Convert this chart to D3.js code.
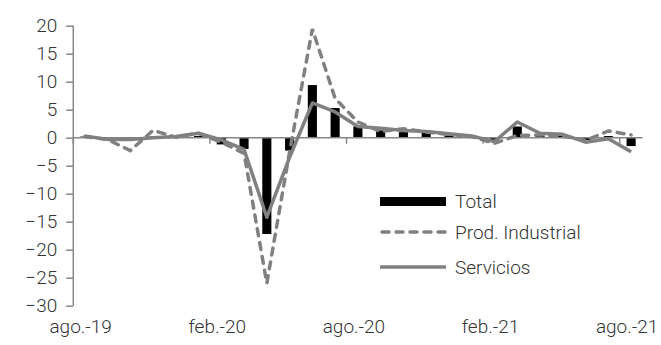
<!DOCTYPE html>
<html>
<head>
<meta charset="utf-8">
<script src="https://cdn.jsdelivr.net/npm/d3@7"></script>
<style>
  html, body { margin: 0; padding: 0; background: #fff; }
  svg text { font-family: Roboto, 'Liberation Sans', sans-serif; font-weight: 300; fill: #333; }
</style>
</head>
<body>
<svg id="chart" width="661" height="345"></svg>
<script>
// Monthly categories, ago-19 .. ago-21
const months = ["ago.-19","sep.-19","oct.-19","nov.-19","dic.-19","ene.-20","feb.-20","mar.-20","abr.-20","may.-20","jun.-20","jul.-20",
                "ago.-20","sep.-20","oct.-20","nov.-20","dic.-20","ene.-21","feb.-21","mar.-21","abr.-21","may.-21","jun.-21","jul.-21","ago.-21"];
const total      = [0.2,-0.2,-0.4,0.2,0.1,0.3,-1.2,-2.0,-17.2,-2.3,9.4,5.3,2.0,1.3,1.0,0.9,0.4,0.3,-0.5,2.0,0.4,0.4,-0.4,0.3,-1.5];
const prodInd    = [0.2,-0.3,-2.3,1.3,0.1,0.8,-0.8,-2.8,-26.0,-2.5,19.4,7.0,2.8,1.1,1.6,1.0,0.6,0.2,-1.0,0.4,0.5,0.3,-0.5,1.2,0.5];
const servicios  = [0.3,-0.3,-0.3,0.0,0.2,0.8,-0.4,-2.1,-14.2,-3.5,6.2,4.6,2.0,1.7,1.3,1.1,0.7,0.3,-0.7,2.8,0.8,0.6,-0.8,-0.2,-2.5];
const yTicks     = [20,15,10,5,0,-5,-10,-15,-20,-25,-30];
const xLabels    = ["ago.-19","feb.-20","ago.-20","feb.-21","ago.-21"];
const legendItems = ["Total","Prod. Industrial","Servicios"];

const svg = d3.select("#chart");
const plotLeft = 73.3, plotRight = 642.5, plotTop = 25.7, plotBottom = 305.7;
const axisColor = "#868686", lineColor = "#808080";
const fontSize = 19;

const x = d3.scaleBand().domain(months).range([plotLeft, plotRight]).paddingInner(0).paddingOuter(0);
const step = x.step();
const y = d3.scaleLinear().domain([-30, 20]).range([plotBottom, plotTop]);
const cx = d => x(d) + step / 2;

// bars
svg.append("g").selectAll("rect").data(months).join("rect")
  .attr("x", d => cx(d) - step * 0.2)
  .attr("width", step * 0.4)
  .attr("y", (d, i) => y(Math.max(0, total[i])))
  .attr("height", (d, i) => Math.abs(y(total[i]) - y(0)))
  .attr("fill", "#000");

// horizontal axis at zero
const xAxis = d3.axisBottom(x)
  .tickValues(months.filter((d, i) => i % 6 === 0))
  .tickSize(0).tickFormat(() => "");
const gx = svg.append("g").attr("transform", `translate(0,${y(0)})`).call(xAxis);
gx.select(".domain").attr("stroke", axisColor).attr("stroke-width", 1.5).attr("d", `M${plotLeft},0H${plotRight}`);
gx.selectAll(".tick text").remove();
// tick marks between categories every 6 months
gx.selectAll(".bt").data(d3.range(0, months.length, 6)).join("line")
  .attr("x1", i => plotLeft + i * step).attr("x2", i => plotLeft + i * step)
  .attr("y1", 0).attr("y2", 6).attr("stroke", axisColor).attr("stroke-width", 1.5);

// category labels at the bottom
svg.append("g").selectAll("text").data(xLabels).join("text")
  .attr("x", d => cx(d) - 4).attr("y", 333)
  .attr("text-anchor", "middle").attr("font-size", fontSize)
  .text(d => d);

// vertical axis
const yAxis = d3.axisLeft(y).tickValues(yTicks).tickSize(7).tickPadding(9).tickFormat(d3.format("d"));
const gy = svg.append("g").attr("transform", `translate(${plotLeft},0)`).call(yAxis);
gy.select(".domain").attr("stroke", axisColor).attr("stroke-width", 1.5).attr("d", `M0,${plotTop}V${plotBottom}`);
gy.selectAll(".tick line").attr("stroke", axisColor).attr("stroke-width", 1.5);
gy.selectAll(".tick text").attr("font-size", fontSize).attr("font-family", null).attr("fill", null);

// lines
const line = vals => d3.line().x((d, i) => cx(months[i])).y(d => y(d))(vals);
svg.append("path").attr("d", line(servicios))
  .attr("fill", "none").attr("stroke", lineColor).attr("stroke-width", 3.5).attr("stroke-linejoin", "round");
svg.append("path").attr("d", line(prodInd))
  .attr("fill", "none").attr("stroke", lineColor).attr("stroke-width", 3.5)
  .attr("stroke-dasharray", "7,7").attr("stroke-linecap", "round");

// legend
const lg = svg.append("g");
const ly = [201.5, 232, 267];
lg.append("rect").attr("x", 380).attr("y", ly[0] - 4.5).attr("width", 66).attr("height", 9).attr("fill", "#000");
lg.append("line").attr("x1", 382).attr("x2", 446).attr("y1", ly[1]).attr("y2", ly[1])
  .attr("stroke", lineColor).attr("stroke-width", 3.5).attr("stroke-dasharray", "7,7").attr("stroke-linecap", "round");
lg.append("line").attr("x1", 380).attr("x2", 446).attr("y1", ly[2]).attr("y2", ly[2])
  .attr("stroke", lineColor).attr("stroke-width", 3.5);
lg.selectAll("text").data(legendItems).join("text")
  .attr("x", 455).attr("y", (d, i) => ly[i]).attr("dy", "0.35em")
  .attr("font-size", fontSize).text(d => d);
</script>
</body>
</html>
